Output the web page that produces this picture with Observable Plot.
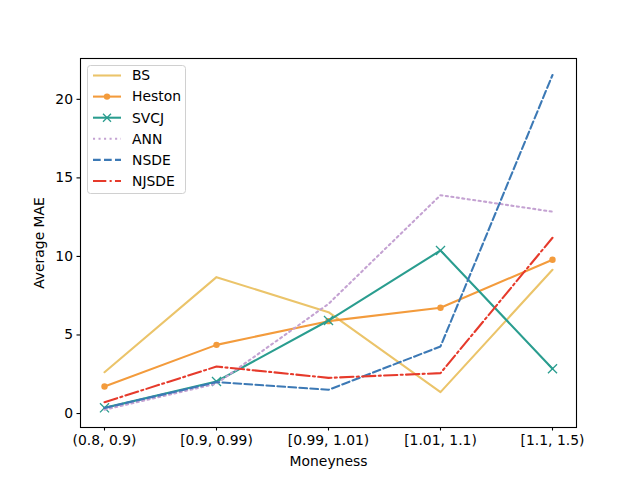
<!DOCTYPE html>
<html><head><meta charset="utf-8">
<script src="https://cdn.jsdelivr.net/npm/d3@7"></script>
<script src="https://cdn.jsdelivr.net/npm/@observablehq/plot@0.6"></script>
<style>body{margin:0;background:#fff;} #chart{width:640px;height:480px;}</style>
</head><body><div id="chart"></div>
<script>
const categories = ["(0.8, 0.9)", "[0.9, 0.99)", "[0.99, 1.01)", "[1.01, 1.1)", "[1.1, 1.5)"];
const BS     = [2.63, 8.68, 6.45, 1.36, 9.15];
const Heston = [1.72, 4.37, 5.88, 6.73, 9.79];
const SVCJ   = [0.36, 2.04, 5.92, 10.38, 2.85];
const ANN    = [0.24, 1.90, 6.98, 13.90, 12.85];
const NSDE   = [0.35, 2.00, 1.51, 4.27, 21.55];
const NJSDE  = [0.72, 2.99, 2.27, 2.57, 11.19];
const yTicks = [0, 5, 10, 15, 20];

const series = [
  {name: "BS", values: BS, color: "#EBC46A", dash: null, marker: null},
  {name: "Heston", values: Heston, color: "#F39B3C", dash: null, marker: "circle"},
  {name: "SVCJ", values: SVCJ, color: "#2A9D8F", dash: null, marker: "times"},
  {name: "ANN", values: ANN, color: "#C4A2D2", dash: "2.08,3.44", marker: null},
  {name: "NSDE", values: NSDE, color: "#3C79B5", dash: "7.7,3.3", marker: null},
  {name: "NJSDE", values: NJSDE, color: "#E63A2B", dash: "13.3,3.3,2.08,3.3", marker: null}
];
const lw = 2.08;

const marks = [];
for (const s of series) {
  const data = categories.map((c, i) => ({cat: c, v: s.values[i]}));
  marks.push(Plot.line(data, {x: "cat", y: "v", stroke: s.color, strokeWidth: lw, strokeDasharray: s.dash ?? undefined}));
  if (s.marker === "circle") marks.push(Plot.dot(data, {x: "cat", y: "v", fill: s.color, r: 3.2, symbol: "circle"}));
  if (s.marker === "times") marks.push(Plot.dot(data, {x: "cat", y: "v", stroke: s.color, r: 4.2, symbol: "times", strokeWidth: 1.3}));
}

const chart = Plot.plot({
  width: 640, height: 480,
  marginLeft: 80, marginRight: 64, marginTop: 58, marginBottom: 53,
  style: {fontFamily: "DejaVu Sans", fontSize: "13.9px", background: "#fff", color: "#000"},
  x: {type: "point", domain: categories, padding: 0.2, label: null},
  y: {domain: [-0.89, 22.6], label: null},
  marks: [
    ...marks,
    Plot.frame({stroke: "#000", strokeWidth: 1.1}),
    Plot.axisX({tickSize: 3.5, tickPadding: 4, fontSize: 13.9, label: "Moneyness", labelAnchor: "center", labelOffset: 38, labelArrow: "none", strokeWidth: 1.1}),
    Plot.axisY({ticks: yTicks, tickSize: 3.5, tickPadding: 4, fontSize: 13.9, label: "Average MAE", labelAnchor: "center", labelOffset: 46, labelArrow: "none", strokeWidth: 1.1})
  ]
});
document.getElementById("chart").appendChild(chart);

// legend inside upper-left corner
const svg = d3.select(chart);
const g = svg.append("g").attr("font-family", "DejaVu Sans").attr("font-size", "13.9px").attr("text-anchor", "start");
g.append("rect").attr("x", 87.5).attr("y", 65.5).attr("width", 98).attr("height", 128).attr("rx", 3)
  .attr("fill", "#fff").attr("fill-opacity", 0.8).attr("stroke", "#d0d0d0").attr("stroke-width", 1);
series.forEach((s, i) => {
  const y = 75.5 + i * 21.1;
  g.append("line").attr("x1", 93).attr("x2", 121).attr("y1", y).attr("y2", y)
    .attr("stroke", s.color).attr("stroke-width", lw).attr("stroke-dasharray", s.dash);
  if (s.marker === "circle") g.append("circle").attr("cx", 107).attr("cy", y).attr("r", 3.2).attr("fill", s.color);
  if (s.marker === "times") g.append("path").attr("d", `M${103},${y-4}L${111},${y+4}M${103},${y+4}L${111},${y-4}`).attr("stroke", s.color).attr("stroke-width", 1.3);
  g.append("text").attr("x", 132).attr("y", y).attr("dy", "0.35em").attr("text-anchor", "start").text(s.name);
});
</script></body></html>
